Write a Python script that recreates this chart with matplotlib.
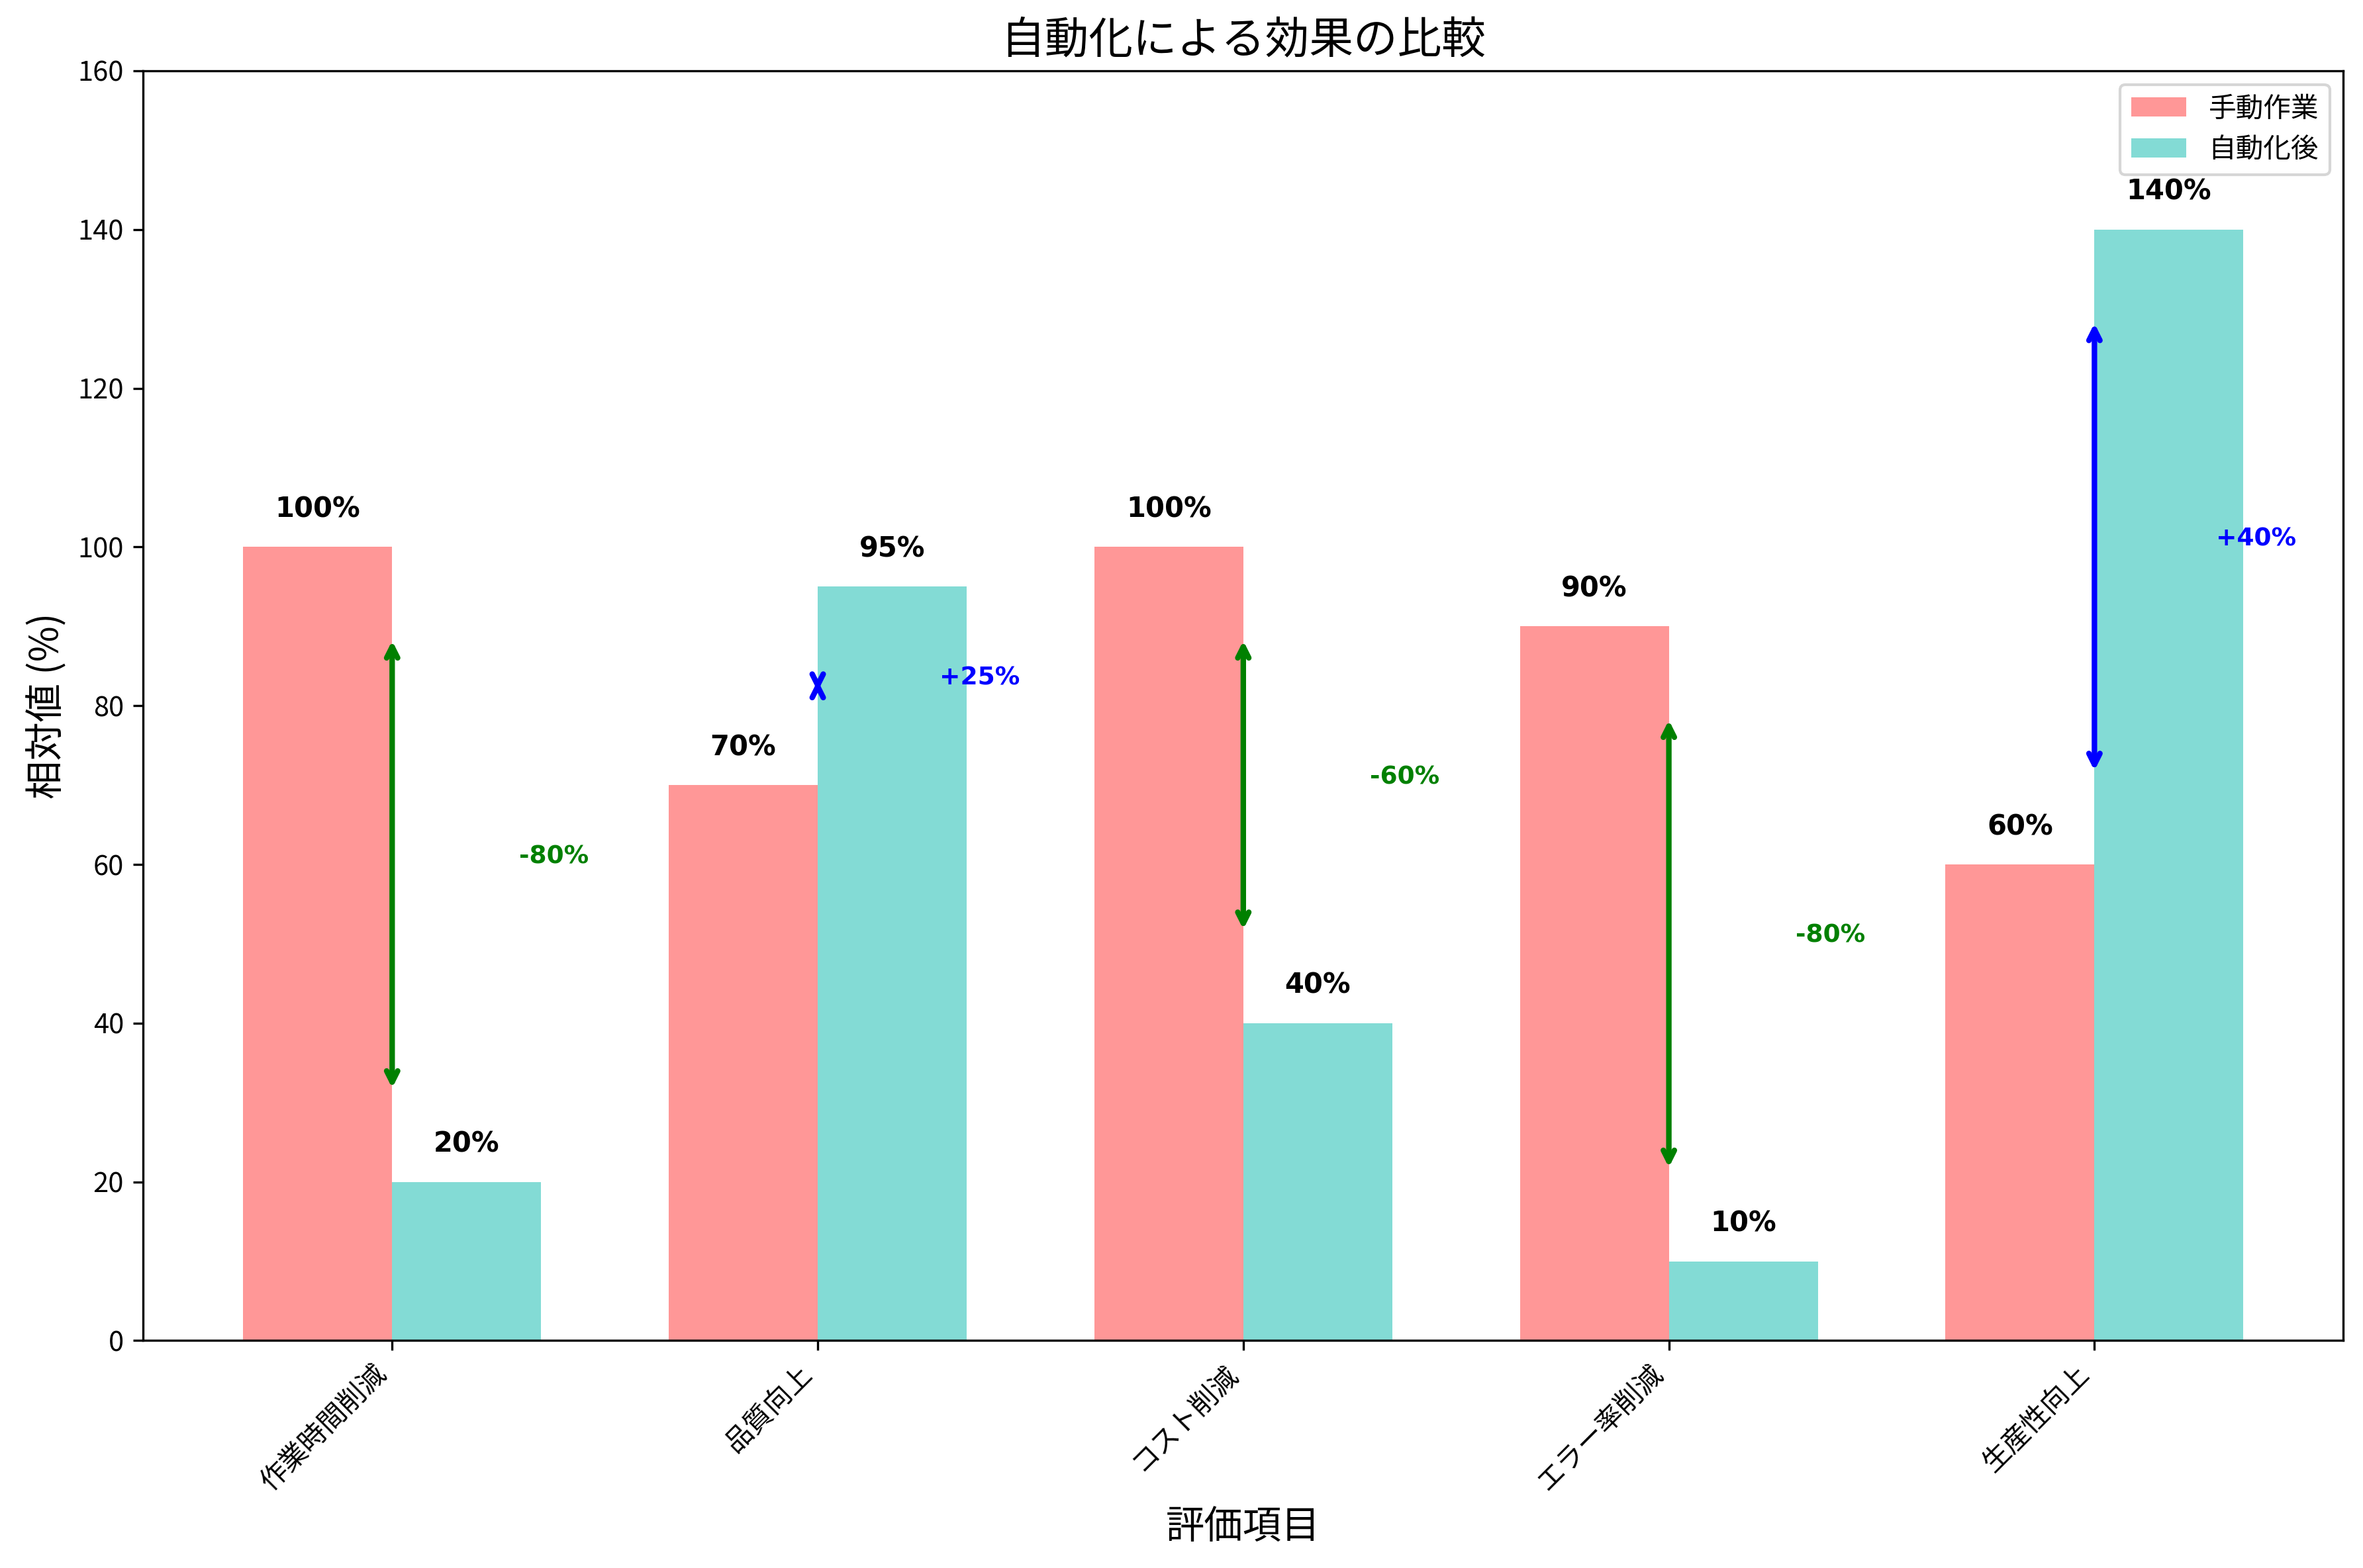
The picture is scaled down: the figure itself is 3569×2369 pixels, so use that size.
import numpy as np
import matplotlib
matplotlib.use('Agg')
import matplotlib.pyplot as plt

plt.rcParams['font.family'] = ['Noto Sans CJK JP', 'DejaVu Sans']

# DATA
categories = ['作業時間削減', '品質向上', 'コスト削減', 'エラー率削減', '生産性向上']
manual = [100, 70, 100, 90, 60]
automated = [20, 95, 40, 10, 140]
diff_labels = ['-80%', '+25%', '-60%', '-80%', '+40%']

x = np.arange(len(categories))
width = 0.35

fig, ax = plt.subplots(figsize=(3569 / 300, 2369 / 300), dpi=300)
fig.subplots_adjust(left=0.0606, right=0.9917, top=0.9549, bottom=0.145)

bars1 = ax.bar(x - width / 2, manual, width, label='手動作業', color='#FF6B6B', alpha=0.7)
bars2 = ax.bar(x + width / 2, automated, width, label='自動化後', color='#4ECDC4', alpha=0.7)

# value labels
for bars in (bars1, bars2):
    for b in bars:
        h = b.get_height()
        ax.text(b.get_x() + b.get_width() / 2, h + 3, f'{h:.0f}%',
                ha='center', va='bottom', fontsize=10, fontweight='bold',
                family='DejaVu Sans')

# improvement arrows
for i, (m, a, lab) in enumerate(zip(manual, automated, diff_labels)):
    col = 'green' if lab.startswith('-') else 'blue'
    ax.annotate('', xy=(x[i], a), xytext=(x[i], m),
                arrowprops=dict(arrowstyle='<->', color=col, lw=2,
                                shrinkA=34, shrinkB=34))
    ax.text(x[i] + 0.38, (m + a) / 2 + 1, lab, ha='center', va='center',
            fontsize=9, fontweight='bold', color=col, family='DejaVu Sans')

ax.set_ylim(0, 160)
ax.set_xticks(x)
ax.set_xticklabels(categories, rotation=45, ha='right')
ax.set_xlabel('評価項目', fontsize=14)
ax.set_ylabel('相対値 (%)', fontsize=14)
ax.set_title('自動化による効果の比較', fontsize=16)
ax.legend(loc='upper right')

plt.savefig('out.png', dpi=300)
